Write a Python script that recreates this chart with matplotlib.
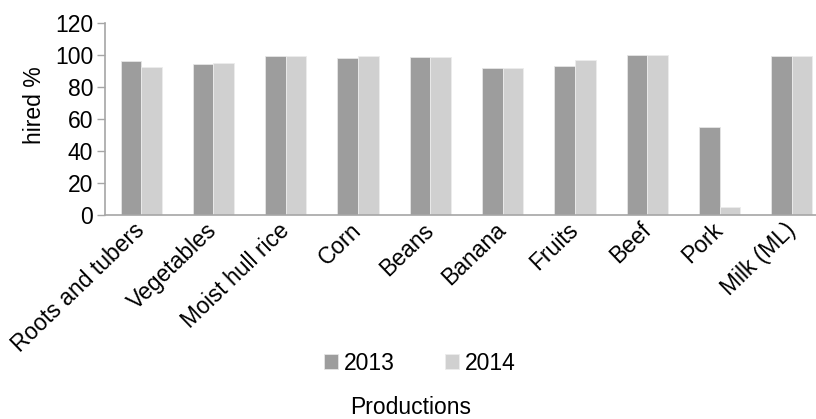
import matplotlib.pyplot as plt
import numpy as np

plt.rcParams['font.family'] = ['Liberation Sans', 'DejaVu Sans']

categories = ['Roots and tubers', 'Vegetables', 'Moist hull rice', 'Corn', 'Beans',
              'Banana', 'Fruits', 'Beef', 'Pork', 'Milk (ML)']
hired2013 = [96.4, 94.4, 99.2, 98.1, 98.8, 91.7, 93.1, 100.0, 55.2, 99.6]
hired2014 = [92.5, 94.8, 99.6, 99.4, 98.8, 92.1, 96.7, 100.0, 5.2, 99.4]

fig = plt.figure(figsize=(8.16, 4.19), dpi=100)
ax = fig.add_axes([105 / 816, 204 / 419, 723 / 816, 192 / 419])

x = np.arange(len(categories))
w = 0.285
ax.bar(x - w / 2, hired2013, w, color='#9d9d9d', edgecolor='#e6e6e6', linewidth=0.6, label='2013')
ax.bar(x + w / 2, hired2014, w, color='#d0d0d0', edgecolor='#ececec', linewidth=0.6, label='2014')

ax.set_xlim(-0.5, len(categories) - 0.5)
ax.set_ylim(0, 120)
ax.set_yticks(range(0, 121, 20))
ax.tick_params(axis='y', labelsize=16.5, length=5.5, width=1, color='#a6a6a6', pad=3)
ax.set_xticks(x)
ax.set_xticklabels(categories, rotation=44, ha='right', va='center', rotation_mode='anchor',
                   fontsize=16.5)
ax.tick_params(axis='x', length=0, pad=8.5)

for s in ['top', 'right']:
    ax.spines[s].set_visible(False)
for s in ['left', 'bottom']:
    ax.spines[s].set_color('#a6a6a6')
    ax.spines[s].set_linewidth(1.2)

ax.set_ylabel('hired %', fontsize=16.5)
ax.yaxis.label.set(va='center', rotation_mode='default')
ax.yaxis.set_label_coords(-0.097, 0.573)

fig.text(411 / 816, 1 - 414 / 419, 'Productions', fontsize=16.5, ha='center', va='baseline')
fig.legend(loc='center', bbox_to_anchor=(420 / 816, 1 - 363 / 419), ncol=2, frameon=False,
           fontsize=16.5, handlelength=0.6, handleheight=0.6, handletextpad=0.25,
           columnspacing=2.2)

fig.savefig('out.png', dpi=100)
